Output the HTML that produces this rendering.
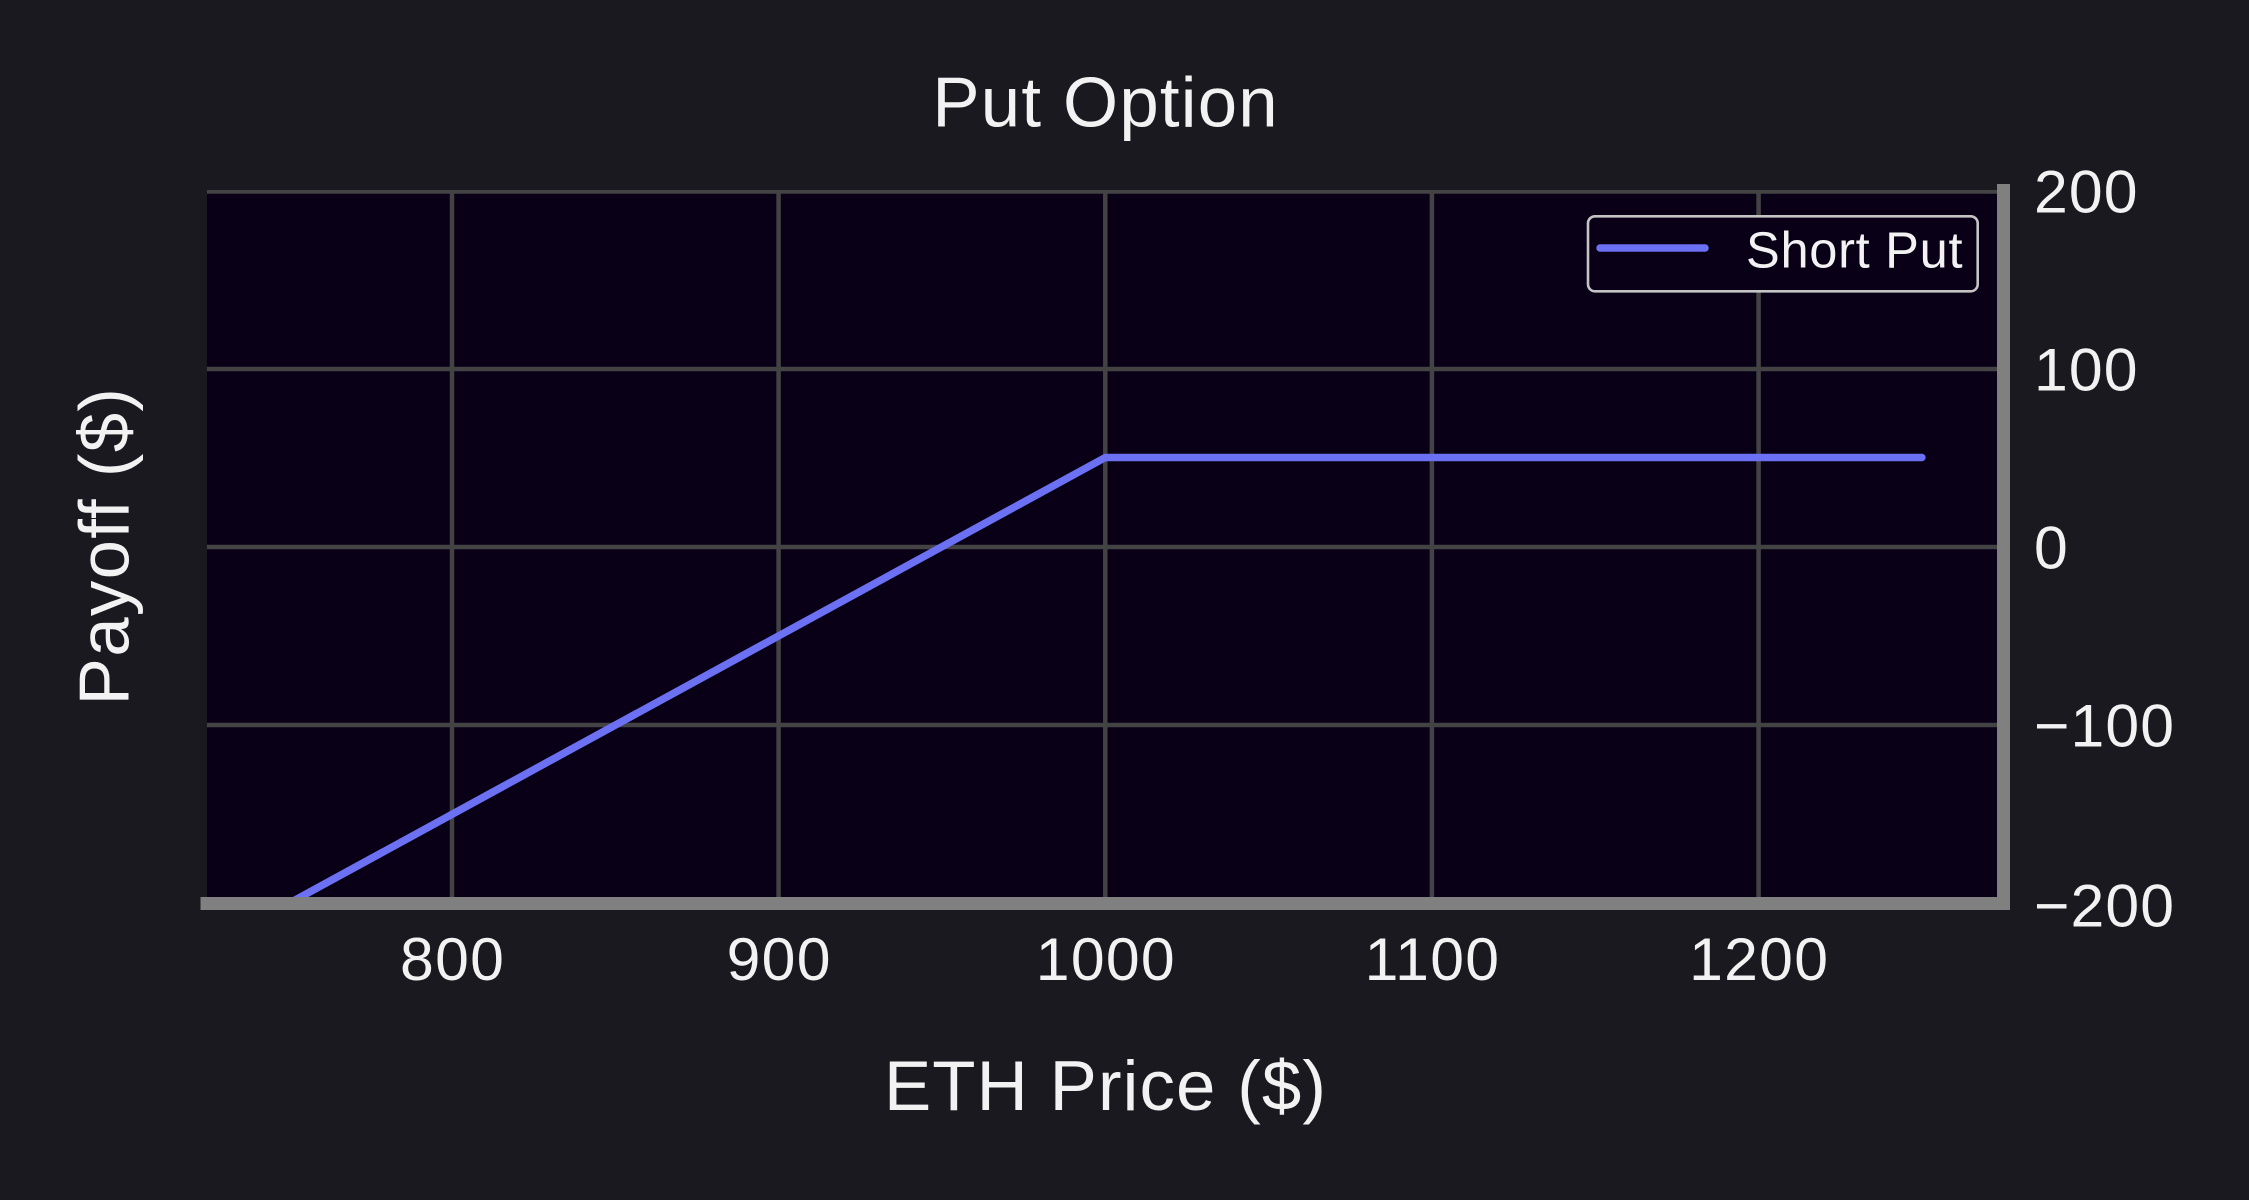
<!DOCTYPE html>
<html>
<head>
<meta charset="utf-8">
<style>
  html, body { margin: 0; padding: 0; background: #1b1920; }
  body { width: 2249px; height: 1200px; overflow: hidden; }
  svg { display: block; }
  text { font-family: "Liberation Sans", "DejaVu Sans", sans-serif; fill: #f2f2f2; }
</style>
</head>
<body>
<svg width="2249" height="1200" viewBox="0 0 2249 1200" xmlns="http://www.w3.org/2000/svg">
  <defs>
    <clipPath id="plotclip">
      <rect x="207" y="190" width="1796.5" height="713.5"/>
    </clipPath>
  </defs>
  <!-- figure background -->
  <rect x="0" y="0" width="2249" height="1200" fill="#1b1920"/>
  <!-- plot background -->
  <rect x="207" y="190" width="1796.5" height="713.5" fill="#090017"/>

  <!-- grid -->
  <g clip-path="url(#plotclip)" stroke="#434343" stroke-width="4.5">
    <line x1="452" y1="180" x2="452" y2="910"/>
    <line x1="778.6" y1="180" x2="778.6" y2="910"/>
    <line x1="1105.3" y1="180" x2="1105.3" y2="910"/>
    <line x1="1431.9" y1="180" x2="1431.9" y2="910"/>
    <line x1="1758.6" y1="180" x2="1758.6" y2="910"/>
    <line x1="200" y1="191.5" x2="2010" y2="191.5"/>
    <line x1="200" y1="369" x2="2010" y2="369"/>
    <line x1="200" y1="547" x2="2010" y2="547"/>
    <line x1="200" y1="725" x2="2010" y2="725"/>
  </g>

  <!-- data line -->
  <g clip-path="url(#plotclip)">
    <polyline points="288.7,903.5 1105.3,457.5 1921.9,457.5" fill="none" stroke="#6b71f2" stroke-width="7.5" stroke-linecap="round" stroke-linejoin="round"/>
  </g>

  <!-- legend -->
  <rect x="1588" y="216.3" width="389.7" height="75" rx="7" ry="7" fill="#090017" stroke="#c4c4c4" stroke-width="2.6"/>
  <line x1="1600" y1="248" x2="1705" y2="248" stroke="#6b71f2" stroke-width="7.5" stroke-linecap="round"/>
  <text x="1746" y="267.3" font-size="50.6" letter-spacing="0.7">Short Put</text>

  <!-- spines -->
  <line x1="200.5" y1="903.5" x2="2010" y2="903.5" stroke="#808080" stroke-width="13"/>
  <line x1="2003.5" y1="184" x2="2003.5" y2="910" stroke="#808080" stroke-width="13"/>

  <!-- x tick labels -->
  <g font-size="60.7" text-anchor="middle" letter-spacing="1.3">
    <text x="452.6" y="980">800</text>
    <text x="779.2" y="980">900</text>
    <text x="1105.9" y="980">1000</text>
    <text x="1432.5" y="980">1100</text>
    <text x="1759.2" y="980">1200</text>
  </g>

  <!-- y tick labels (right side) -->
  <g font-size="60.7" text-anchor="start" letter-spacing="1.1">
    <text x="2034" y="212.5">200</text>
    <text x="2034" y="390.3">100</text>
    <text x="2034" y="568.5">0</text>
    <text x="2034" y="746.5">−100</text>
    <text x="2034" y="926.5">−200</text>
  </g>

  <!-- title -->
  <text x="1105.6" y="126.7" font-size="70.8" text-anchor="middle" letter-spacing="1.2">Put Option</text>

  <!-- x label -->
  <text x="1105.5" y="1110" font-size="70.8" text-anchor="middle" letter-spacing="1.1">ETH Price ($)</text>

  <!-- y label -->
  <text transform="translate(128.3,546.0) rotate(-90)" font-size="70.8" text-anchor="middle" letter-spacing="1.3">Payoff ($)</text>
</svg>
</body>
</html>
